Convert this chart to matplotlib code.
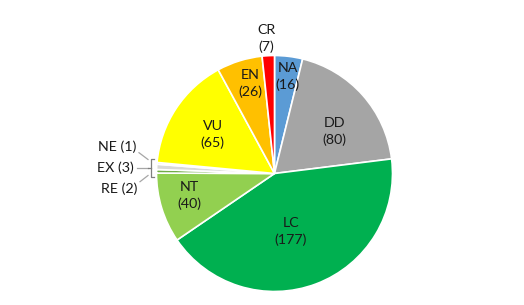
import numpy as np
import matplotlib
matplotlib.use("Agg")
import matplotlib.pyplot as plt

categories = ["NA", "DD", "LC", "NT", "RE", "EX", "NE", "VU", "EN", "CR"]
counts = [16, 80, 177, 40, 2, 3, 1, 65, 26, 7]

colors = ["#5B9BD5", "#A5A5A5", "#00B050", "#92D050", "#70AD47",
          "#D9D9D9", "#2E75B6", "#FFFF00", "#FFC000", "#FF0000"]
# label placement: radial fraction and angle tweak (deg) for in-slice labels
label_r = {"NA": 0.83, "DD": 0.62, "LC": 0.51, "NT": 0.75, "VU": 0.62, "EN": 0.79, "CR": 1.15}
label_da = {"NA": -0.8, "DD": -6.4, "LC": -5.0, "NT": -2.4, "VU": 1.0, "EN": -2.3, "CR": 0.4}
small = ["NE", "EX", "RE"]
small_pos = {"NE": (117, 305 - 147), "EX": (115, 305 - 167.5), "RE": (119, 305 - 189)}

plt.rcParams['font.family'] = ['Lato', 'DejaVu Sans']

fig = plt.figure(figsize=(5.24, 3.05), dpi=100)
ax = fig.add_axes([0, 0, 1, 1])
cx, cy, R = 274.5, 305 - 173.5, 118

wedges, _ = ax.pie(counts, colors=colors, startangle=90, counterclock=False,
                   center=(cx, cy), radius=R,
                   wedgeprops=dict(edgecolor="white", linewidth=1.2))
ax.set_xlim(0, 524)
ax.set_ylim(0, 305)
ax.set_aspect("equal")
ax.axis("off")

txtc = "#1A1A1A"
fs = 10.3
for w, cat, n in zip(wedges, categories, counts):
    if cat in small:
        x, y = small_pos[cat]
        ax.text(x, y, f"{cat} ({n})", ha="center", va="center", fontsize=fs, color=txtc)
        continue
    a = np.deg2rad((w.theta1 + w.theta2) / 2 + label_da[cat])
    r = label_r[cat] * R
    ax.text(cx + r * np.cos(a), cy + r * np.sin(a), f"{cat}\n({n})", ha="center",
            va="center", fontsize=fs, color=txtc, linespacing=1.42)

# leader lines and bracket for the small slices
lc = "#A6A6A6"
def Y(v):
    return 305 - v
ax.plot([139, 148], [Y(152.7), Y(159.5)], color=lc, lw=0.9)
ax.plot([137, 148], [Y(167.7), Y(167.7)], color=lc, lw=0.9)
ax.plot([140, 148], [Y(181.7), Y(175.5)], color=lc, lw=0.9)
bc = "#7F7F7F"
ax.plot([153.5, 151, 151, 153.5], [Y(159.3), Y(159.3), Y(176.7), Y(176.7)], color=bc, lw=0.9)
ax.plot([148, 151], [Y(167.7), Y(167.7)], color=bc, lw=0.9)

fig.savefig("out.png", dpi=100, facecolor="white")
